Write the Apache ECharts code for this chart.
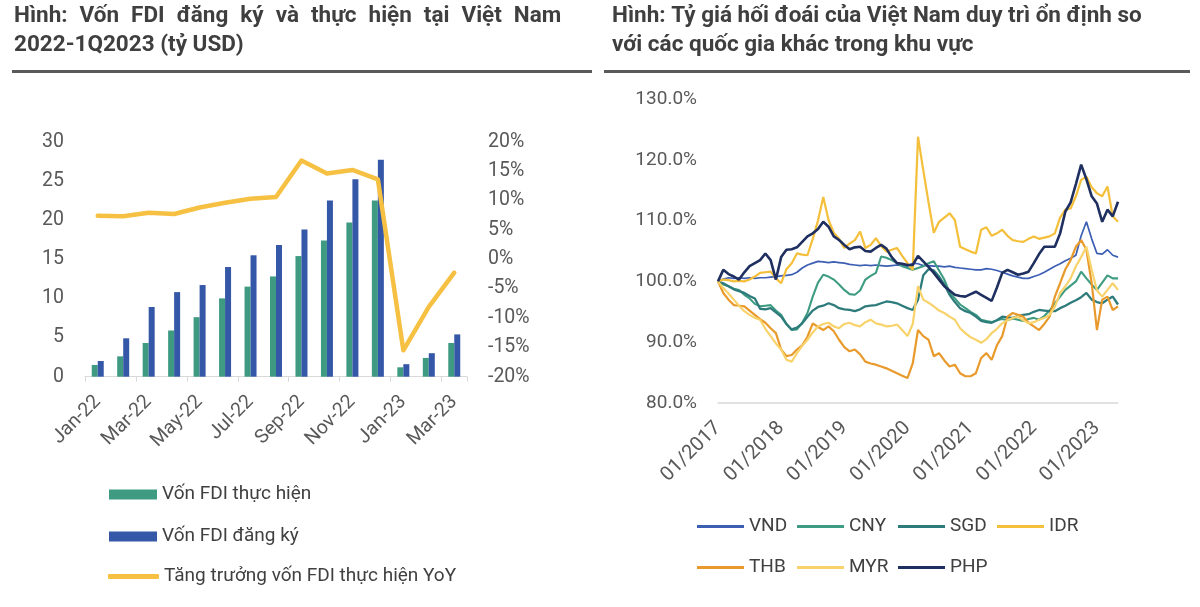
<!DOCTYPE html>
<html>
<head>
<meta charset="utf-8">
<script src="https://cdn.jsdelivr.net/npm/echarts@6/dist/echarts.min.js"></script>
<style>
html,body{margin:0;padding:0;background:#fff;}
#c{width:1200px;height:607px;}
</style>
</head>
<body>
<div id="c"></div>
<script>
// ---------- Left chart data ----------
const fdiMonths = ['Jan-22','Feb-22','Mar-22','Apr-22','May-22','Jun-22','Jul-22','Aug-22','Sep-22','Oct-22','Nov-22','Dec-22','Jan-23','Feb-23','Mar-23'];
const fdiRealized = [1.5, 2.6, 4.3, 5.9, 7.6, 10.0, 11.5, 12.8, 15.4, 17.4, 19.7, 22.5, 1.2, 2.4, 4.3];
const fdiRegistered = [2.0, 4.9, 8.9, 10.8, 11.7, 14.0, 15.5, 16.8, 18.8, 22.5, 25.2, 27.7, 1.6, 3.0, 5.4];
const fdiGrowthYoY = [7.4, 7.3, 7.9, 7.7, 8.8, 9.6, 10.3, 10.6, 16.8, 14.6, 15.2, 13.6, -15.5, -8.1, -2.3];

// ---------- Right chart data (monthly, 01/2017 .. 05/2023) ----------
const fxDates = [];
for (let y = 2017; y <= 2023; y++) {
  for (let m = 1; m <= 12; m++) {
    if (y === 2023 && m > 5) break;
    fxDates.push((m < 10 ? '0' + m : '' + m) + '/' + y);
  }
}
const VND = [100.0,100.4,100.6,100.5,100.6,100.5,100.6,100.5,100.6,100.6,100.7,100.8,100.9,101.0,101.1,101.5,102.2,102.7,103.0,103.3,103.2,103.1,103.2,103.1,103.0,102.8,102.7,102.6,102.7,102.6,102.7,102.6,102.5,102.6,102.7,102.6,102.5,103.0,102.9,102.6,102.6,102.5,102.5,102.4,102.5,102.3,102.2,102.1,102.0,101.9,101.9,102.1,102.0,101.8,101.5,101.2,100.9,100.7,100.5,100.5,100.8,101.1,101.5,102.0,102.5,102.9,103.4,103.8,104.3,107.5,109.8,107.0,104.6,104.5,105.2,104.3,104.0];
const CNY = [100.0,99.5,99.2,98.8,98.6,97.8,97.2,96.3,95.9,96.0,96.1,95.2,94.5,93.0,92.0,92.1,93.2,94.8,97.5,99.8,101.1,100.8,100.3,99.5,98.6,97.9,97.8,98.5,100.3,100.9,101.4,104.1,103.9,103.5,103.0,102.5,102.2,101.9,102.2,102.5,103.0,103.3,101.8,100.3,98.2,97.2,96.2,95.6,95.0,94.5,93.7,93.5,93.3,93.6,93.8,93.6,93.9,93.7,93.5,93.8,94.0,93.7,94.3,95.2,96.4,97.5,98.6,99.3,100.0,101.6,100.5,99.5,98.6,99.8,101.0,100.5,100.5];
const SGD = [100.0,99.7,99.2,98.7,98.4,98.1,97.6,97.2,95.5,95.4,95.6,94.9,94.2,93.0,92.1,92.4,93.1,94.2,95.2,95.8,96.0,96.4,96.1,95.6,95.4,95.3,95.1,95.4,95.9,96.0,96.1,96.4,96.7,96.6,96.4,96.0,95.6,95.3,97.0,101.0,102.0,101.8,100.8,99.5,97.8,96.6,95.6,95.1,94.8,94.2,93.5,93.3,93.2,93.6,94.2,94.1,94.0,94.3,94.5,94.6,95.0,95.3,95.2,95.1,95.1,95.6,96.0,96.5,96.9,97.4,98.1,97.0,96.6,96.4,97.0,97.5,96.2];
const IDR = [100.0,100.3,100.2,100.0,100.1,100.0,100.3,100.8,101.4,101.5,101.6,100.5,99.7,102.0,103.0,104.6,104.4,104.3,107.0,110.0,113.9,110.1,108.0,107.0,105.5,106.2,106.8,108.2,105.5,106.0,107.1,105.8,104.9,105.2,105.5,104.2,103.0,101.9,123.8,118.3,113.0,108.0,109.8,110.5,111.2,110.1,105.7,105.3,104.9,104.6,108.5,108.9,107.5,107.9,108.5,107.5,106.8,106.6,106.5,107.0,107.4,107.0,107.2,107.4,107.9,110.5,111.8,112.0,114.0,116.7,117.2,115.5,114.5,114.0,115.6,110.7,109.8];
const THB = [100.0,98.1,97.0,96.1,96.0,95.9,95.2,94.5,93.8,93.2,92.3,91.5,88.8,87.7,87.9,88.8,89.5,90.9,93.1,92.5,92.0,92.6,91.8,90.4,89.2,88.5,88.8,88.0,86.8,86.5,86.3,86.0,85.7,85.3,84.9,84.5,84.1,86.5,92.0,91.0,90.4,87.7,88.2,87.0,86.0,86.3,84.9,84.4,84.4,84.9,87.4,88.2,87.1,89.5,91.0,94.2,94.8,94.5,94.2,93.2,92.6,92.0,93.0,94.2,97.5,99.7,102.0,103.5,105.7,106.8,105.2,99.7,92.0,97.0,97.5,95.3,95.9];
const MYR = [100.0,98.9,98.0,97.0,96.0,95.1,94.5,94.0,93.7,92.2,91.0,89.8,88.8,87.1,86.8,88.2,89.4,90.4,91.6,92.6,93.0,93.2,92.6,92.3,93.0,93.2,92.8,92.6,93.3,93.7,93.1,92.9,92.6,92.7,92.9,92.0,91.0,93.0,99.2,97.0,96.5,95.9,95.2,94.8,94.2,93.7,92.3,91.5,90.8,90.4,89.9,90.5,91.5,92.2,93.1,93.6,94.0,94.2,93.6,93.1,93.3,93.7,94.0,94.5,95.8,98.1,99.2,100.5,102.5,104.0,105.7,101.9,98.5,97.5,98.6,99.7,98.6];
const PHP = [100.0,101.9,101.2,100.8,100.3,101.5,102.5,103.0,103.5,104.6,103.5,100.3,104.0,105.2,105.3,105.6,106.5,107.4,107.9,108.6,109.8,109.0,107.4,106.8,106.0,105.3,105.6,105.7,105.0,104.9,105.5,106.0,105.4,104.0,103.0,102.9,102.7,102.7,104.2,103.3,102.4,101.4,100.3,99.2,98.5,97.8,97.6,97.5,97.9,98.3,97.8,97.3,96.8,99.0,101.4,101.9,101.5,101.1,101.3,101.6,103.0,104.5,105.7,105.7,105.7,107.9,111.5,113.0,116.0,119.2,116.8,114.0,112.8,109.8,111.8,110.7,113.1];

const fxSeries = [
  {name:'VND', data:VND, color:'#3d5fb3', w:1.7},
  {name:'CNY', data:CNY, color:'#3e9c82', w:2.1},
  {name:'SGD', data:SGD, color:'#2e7b7b', w:2.3},
  {name:'IDR', data:IDR, color:'#f4bf3a', w:2.2},
  {name:'THB', data:THB, color:'#e99a2c', w:2.2},
  {name:'MYR', data:MYR, color:'#f8d26a', w:2.2},
  {name:'PHP', data:PHP, color:'#1e2f60', w:2.6}
];

const FONT = 'Roboto';
const LBL = '#595959';
const TITLE_FONT = 'bold 22.5px Roboto';

const chart = echarts.init(document.getElementById('c'), null, {renderer:'canvas'});

const legendPos = [
  {name:'VND', left:697, top:517}, {name:'CNY', left:797, top:517}, {name:'SGD', left:898, top:517}, {name:'IDR', left:997, top:517},
  {name:'THB', left:697, top:558}, {name:'MYR', left:797, top:558}, {name:'PHP', left:898, top:558}
];

const legends = [
  {data:[{name:'Vốn FDI thực hiện', icon:'rect'}], left:109, top:485, itemWidth:48, itemHeight:10},
  {data:[{name:'Vốn FDI đăng ký', icon:'rect'}], left:109, top:527, itemWidth:48, itemHeight:10},
  {data:[{name:'Tăng trưởng vốn FDI thực hiện YoY', icon:'roundRect'}], left:108, top:567, itemWidth:51, itemHeight:5}
].concat(legendPos.map(p => ({data:[{name:p.name, icon:'rect'}], left:p.left, top:p.top, itemWidth:47, itemHeight:3})));
legends.forEach(l => {
  l.orient = 'horizontal';
  l.padding = 0;
  l.textStyle = {fontFamily:FONT, fontSize:19, color:'#404040'};
  l.selectedMode = false;
});

// title line 1 (left) is justified in the reference: wider word gaps
const leftTitleWords = ['Hình:', 'Vốn', 'FDI', 'đăng', 'ký', 'và', 'thực', 'hiện', 'tại', 'Việt', 'Nam'];
const leftTitleLine1 = leftTitleWords.map(w => '{b|' + w + '}').join('{s| }');

const option = {
  animation:false,
  backgroundColor:'#fff',
  textStyle:{fontFamily:FONT},
  graphic:[
    {type:'text', left:14, top:5, style:{text:leftTitleLine1, rich:{b:{font:TITLE_FONT, fill:'#3f3f3f'}, s:{font:TITLE_FONT, fill:'#3f3f3f', width:12}}}},
    {type:'text', left:14, top:34, style:{text:'2022-1Q2023 (tỷ USD)', font:TITLE_FONT, fill:'#3f3f3f'}},
    {type:'text', left:612, top:5, style:{text:'Hình: Tỷ giá hối đoái của Việt Nam duy trì ổn định so', font:TITLE_FONT, fill:'#3f3f3f'}},
    {type:'text', left:612, top:34, style:{text:'với các quốc gia khác trong khu vực', font:TITLE_FONT, fill:'#3f3f3f'}},
    {type:'rect', shape:{x:12, y:70, width:580, height:3}, style:{fill:'#5a5a5a'}},
    {type:'rect', shape:{x:604, y:70, width:586, height:3}, style:{fill:'#5a5a5a'}}
  ],
  legend: legends,
  grid:[
    {left:85, top:141.7, width:382, height:235},
    {left:718, top:99, width:400, height:304}
  ],
  xAxis:[
    {type:'category', gridIndex:0, data:fdiMonths, boundaryGap:true,
     axisLine:{lineStyle:{color:'#d9d9d9', width:1}},
     axisTick:{show:true, interval:1, length:5, lineStyle:{color:'#d9d9d9'}},
     axisLabel:{interval:1, rotate:45, margin:22, fontSize:19.5, color:LBL, fontFamily:FONT}},
    {type:'category', gridIndex:1, data:fxDates, boundaryGap:false,
     axisLine:{lineStyle:{color:'#d9d9d9', width:1.5}},
     axisTick:{show:false},
     axisLabel:{interval:function(i){return i % 12 === 0;}, rotate:45, margin:22, fontSize:20, color:LBL, fontFamily:FONT}}
  ],
  yAxis:[
    {type:'value', gridIndex:0, min:0, max:30, interval:5,
     axisLine:{show:false}, axisTick:{show:false}, splitLine:{show:false},
     axisLabel:{margin:21, fontSize:19.5, color:LBL, fontFamily:FONT}},
    {type:'value', gridIndex:0, position:'right', min:-20, max:20, interval:5,
     axisLine:{show:false}, axisTick:{show:false}, splitLine:{show:false},
     axisLabel:{margin:21, fontSize:19.5, color:LBL, fontFamily:FONT, formatter:'{value}%'}},
    {type:'value', gridIndex:1, min:80, max:130, interval:10,
     axisLine:{show:false}, axisTick:{show:false}, splitLine:{show:false},
     axisLabel:{margin:21, fontSize:19, color:LBL, fontFamily:FONT, formatter:function(v){return v.toFixed(1) + '%';}}}
  ],
  series:[
    {name:'Vốn FDI thực hiện', type:'bar', xAxisIndex:0, yAxisIndex:0, data:fdiRealized, barWidth:6, barGap:'0%',
     itemStyle:{color:'#3f9a82'}},
    {name:'Vốn FDI đăng ký', type:'bar', xAxisIndex:0, yAxisIndex:0, data:fdiRegistered, barWidth:6, barGap:'0%',
     itemStyle:{color:'#3557a7'}},
    {name:'Tăng trưởng vốn FDI thực hiện YoY', type:'line', xAxisIndex:0, yAxisIndex:1, data:fdiGrowthYoY,
     symbol:'none', lineStyle:{color:'#f6c143', width:4.5, cap:'round', join:'round'}, itemStyle:{color:'#f6c143'}}
  ].concat(fxSeries.map(s => ({
     name:s.name, type:'line', xAxisIndex:1, yAxisIndex:2, data:s.data, symbol:'none',
     lineStyle:{color:s.color, width:s.w}, itemStyle:{color:s.color}
  })))
};
chart.setOption(option);
</script>
</body>
</html>
